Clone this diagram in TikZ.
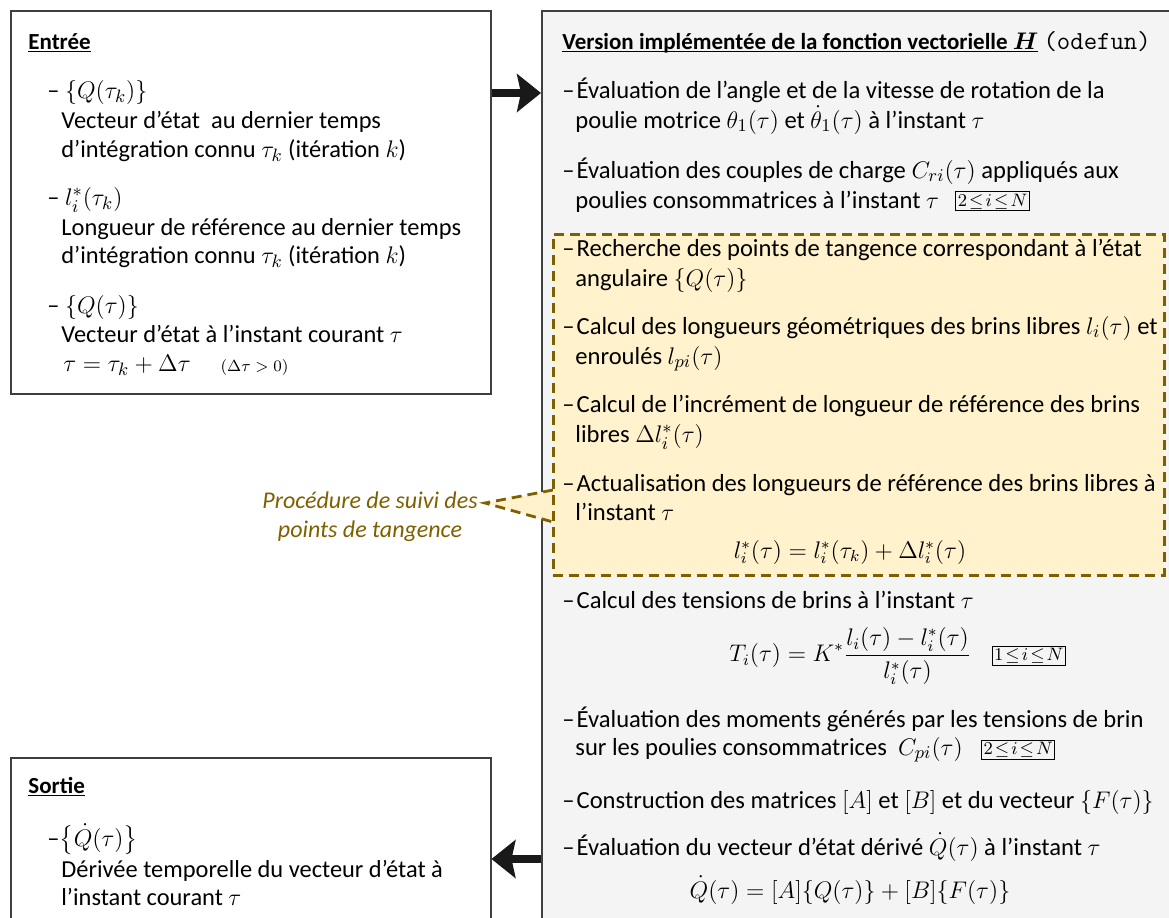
\documentclass[tikz,border=0pt]{standalone}
\usepackage{amsmath,amssymb}
\usepackage{fontspec}
\setmainfont{Carlito}
\usetikzlibrary{arrows.meta,positioning}
\definecolor{framegray}{HTML}{3F3F3F}
\definecolor{panelgray}{HTML}{F4F4F4}
\definecolor{tangfill}{HTML}{FFF2CC}
\definecolor{tangdraw}{HTML}{7F6000}
\tikzset{
	box/.style={draw=framegray,line width=0.75pt,rectangle,anchor=north west,inner sep=0pt},
	txt/.style={anchor=base west,inner sep=0pt,font=\fontsize{12.2}{15}\selectfont},
	rtxt/.style={anchor=base west,inner sep=0pt,font=\fontsize{12.3}{15}\selectfont},
	formula/.style={anchor=base,inner sep=0pt,font=\fontsize{12}{15}\selectfont},
	heading/.style={anchor=base west,inner sep=0pt,font=\fontsize{11.5}{15}\selectfont\bfseries},
	rangebox/.style={draw=black,line width=0.5pt,inner sep=1pt,font=\fontsize{9}{10}\selectfont},
	bigarrow/.style={line width=4pt,draw=black!90,-{Stealth[length=12pt,width=19pt,inset=2pt]}},
	tangbox/.style={draw=tangdraw,fill=tangfill,line width=1.4pt,dash pattern=on 5pt off 3pt},
	note/.style={font=\fontsize{12}{14.5}\selectfont\itshape,text=tangdraw,align=center,inner sep=0pt}
}
\newcommand{\titleline}[1]{\setbox0\hbox{#1}\rlap{\rule[-1.6pt]{\wd0}{0.6pt}}\box0}
\newcommand{\tiret}{–\kern1pt}
\newcommand{\plage}[1]{$#1\mkern2mu{\leq}\mkern2mu i\mkern2mu{\leq}\mkern2mu N$}

\begin{document}
\begin{tikzpicture}[x=0.5pt,y=-0.5pt]
	\clip (0,0) rectangle (1169,917);
	
	% -------------------------------------------------
	% 1. Boxes
	% -------------------------------------------------
	\node[box,minimum width=240pt,minimum height=191.5pt] (entree) at (10,10) {};
	\node[box,fill=panelgray,minimum width=330pt,minimum height=470pt] (fonction) at (541,10) {};
	\node[box,minimum width=240pt,minimum height=100pt] (sortie) at (10,757) {};
	
	% -------------------------------------------------
	% 2. Arrows
	% -------------------------------------------------
	\coordinate (inlvl) at (0,93);
	\coordinate (outlvl) at (0,859);
	\draw[bigarrow] (entree.east |- inlvl) -- (fonction.west |- inlvl);
	\draw[bigarrow] (fonction.west |- outlvl) -- (sortie.east |- outlvl);
	
	% -------------------------------------------------
	% 3. Entree
	% -------------------------------------------------
	\node[heading] (etitre) at (28,49) {\titleline{Entrée}};
	\node[txt] (e1) at (47,98) {–\ $\{Q(\tau_k)\}$};
	\node[txt] (e1a) at (61,128) {Vecteur d’état\ \ au dernier temps};
	\node[txt] (e1b) at (61,157) {d’intégration connu $\tau_k$ (itération $k$)};
	\node[txt] (e2) at (47,205) {–\ $l_i^*(\tau_k)$};
	\node[txt] (e2a) at (61,235) {Longueur de référence au dernier temps};
	\node[txt] (e2b) at (61,263) {d’intégration connu $\tau_k$ (itération $k$)};
	\node[txt] (e3) at (47,313) {–\ $\{Q(\tau)\}$};
	\node[txt] (e3a) at (61,342) {Vecteur d’état à l’instant courant $\tau$};
	\node[txt] (e3b) at (63,371) {$\tau=\tau_k+\Delta\tau$\quad\ {\fontsize{8}{9}\selectfont$(\Delta\tau>0)$}};
	
	% -------------------------------------------------
	% 4. Fonction H
	% -------------------------------------------------
	\node[heading] (ftitre) at (562,49) {\titleline{Version implémentée de la fonction vectorielle $\boldsymbol{H}$}\ {\mdseries\ttfamily\fontsize{13}{15}\selectfont(odefun)}};
	\node[rtxt] (r1) at (562,98) {\tiret Évaluation de l’angle et de la vitesse de rotation de la};
	\node[rtxt] (r1b) at (575,128) {poulie motrice $\theta_1(\tau)$ et $\dot{\theta}_1(\tau)$ à l’instant $\tau$};
	\node[rtxt] (r2) at (562,178) {\tiret Évaluation des couples de charge $C_{ri}(\tau)$ appliqués aux};
	\node[rtxt] (r2b) at (575,208) {poulies consommatrices à l’instant $\tau$};
	\node[rangebox,right=8pt of r2b] (r2n) {\plage{2}};
	
	% tracking of the tangency points
	\coordinate (ptip) at (485,503);
	\fill[tangfill] (553,490) -- (ptip) -- (553,522) -- cycle;
	\draw[tangbox,fill=none] (553,490) -- (ptip) -- (553,522);
	\node[tangbox,rectangle,anchor=north west,minimum width=305.5pt,minimum height=170.5pt,inner sep=0pt] (suivi) at (552,233) {};
	\node[note,anchor=east] (tangnote) at (478,517) {Procédure de suivi des\\points de tangence};
	
	\node[rtxt] (r3) at (562,256) {\tiret Recherche des points de tangence correspondant à l’état};
	\node[rtxt] (r3b) at (575,286) {angulaire $\{Q(\tau)\}$};
	\node[rtxt] (r4) at (562,334) {\tiret Calcul des longueurs géométriques des brins libres $l_i(\tau)$ et};
	\node[rtxt] (r4b) at (575,364) {enroulés $l_{pi}(\tau)$};
	\node[rtxt] (r5) at (562,412) {\tiret Calcul de l’incrément de longueur de référence des brins};
	\node[rtxt] (r5b) at (575,442) {libres $\Delta l_i^*(\tau)$};
	\node[rtxt] (r6) at (562,491) {\tiret Actualisation des longueurs de référence des brins libres à};
	\node[rtxt] (r6b) at (575,520) {l’instant $\tau$};
	\node[formula] (r6f) at (850,558) {$l_i^*(\tau)=l_i^*(\tau_k)+\Delta l_i^*(\tau)$};
	
	\node[rtxt] (r7) at (562,608) {\tiret Calcul des tensions de brins à l’instant $\tau$};
	\node[formula,anchor=west] (r7f) at (729,656) {$\displaystyle T_i(\tau)=K^*\frac{l_i(\tau)-l_i^*(\tau)}{l_i^*(\tau)}$};
	\node[rangebox,right=10pt of r7f] (r7n) {\plage{1}};
	\node[rtxt] (r8) at (562,727) {\tiret Évaluation des moments générés par les tensions de brin};
	\node[rtxt] (r8b) at (575,755) {sur les poulies consommatrices\ \ $C_{pi}(\tau)$};
	\node[rangebox,right=9pt of r8b] (r8n) {\plage{2}};
	\node[rtxt] (r9) at (562,808) {\tiret Construction des matrices $[A]$ et $[B]$ et du vecteur $\{F(\tau)\}$};
	\node[rtxt] (r10) at (562,855) {\tiret Évaluation du vecteur d’état dérivé $\dot{Q}(\tau)$ à l’instant $\tau$};
	\node[formula] (r10f) at (850,898) {$\dot{Q}(\tau)=[A]\{Q(\tau)\}+[B]\{F(\tau)\}$};
	
	% -------------------------------------------------
	% 5. Sortie
	% -------------------------------------------------
	\node[heading] (stitre) at (28,793) {\titleline{Sortie}};
	\node[txt] (s1) at (47,846) {–$\bigl\{\dot{Q}(\tau)\bigr\}$};
	\node[txt] (s1a) at (61,877) {Dérivée temporelle du vecteur d’état à};
	\node[txt] (s1b) at (61,905) {l’instant courant $\tau$};
	
\end{tikzpicture}
\end{document}
